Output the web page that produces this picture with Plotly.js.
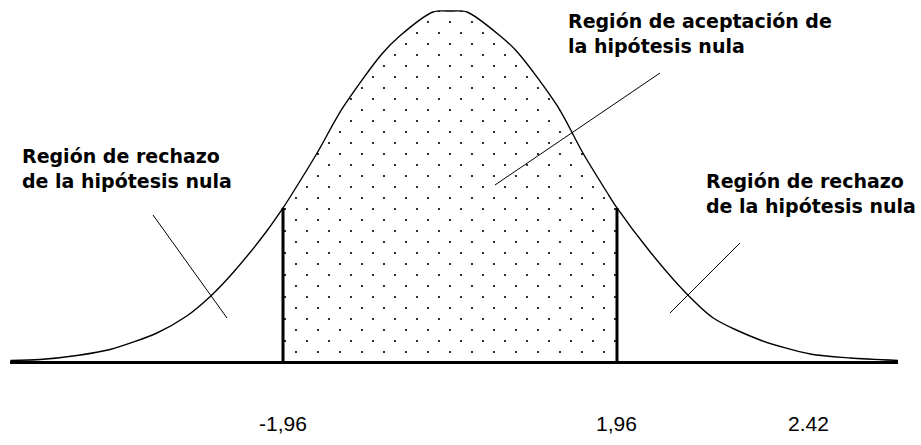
<!DOCTYPE html>
<html>
<head>
<meta charset="utf-8">
<script src="https://cdn.plot.ly/plotly-3.0.1.min.js"></script>
<style>
html,body{margin:0;padding:0;background:#ffffff;}
#chart{width:921px;height:445px;}
</style>
</head>
<body>
<div id="chart"></div>
<script>
// ---- Data ----
// Curve: horizontal position (z units, where the critical lines sit at ±1.96) and height
const curveZ = [-5.16, -4.81, -4.38, -3.99, -3.44, -3.09, -2.82, -2.55, -2.15, -1.96, -1.84, -1.56, -1.26, -0.80, -0.59, -0.20, 0.00,
                0.20, 0.59, 0.79, 1.26, 1.56, 1.84, 1.96, 2.35, 2.78, 3.09, 3.64, 4.23, 4.70, 5.26];
const curveH = [0.0006, 0.0017, 0.0063, 0.0132, 0.0321, 0.0516, 0.0734, 0.1009, 0.1490, 0.1754, 0.1937, 0.2384, 0.2900, 0.3519, 0.3725, 0.4000, 0.4011,
                0.4000, 0.3725, 0.3542, 0.2923, 0.2384, 0.1937, 0.1754, 0.1249, 0.0768, 0.0493, 0.0241, 0.0080, 0.0034, 0.0006];
// Critical values bounding the acceptance region
const criticalZ = [-1.96, 1.96];
// Value labels printed under the axis
const tickText = ['-1,96', '1,96', '2.42'];
// Region labels
const rejectLabel = 'Región de rechazo<br>de la hipótesis nula';
const acceptLabel = 'Región de aceptación de<br>la hipótesis nula';

// ---- Derived series ----
const insideIdx = curveZ.map((z, i) => i).filter(i => curveZ[i] >= criticalZ[0] && curveZ[i] <= criticalZ[1]);
const fillZ = insideIdx.map(i => curveZ[i]);
const fillH = insideIdx.map(i => curveH[i]);
const critX = [], critY = [];
criticalZ.forEach(c => {
  const h = curveH[curveZ.indexOf(c)];
  critX.push(c, c, null);
  critY.push(0, h, null);
});

// ---- Layout geometry (pixels) ----
const W = 921, H = 445;
const mL = 10, mR = 23, mT = 0, mB = 84;
const plotW = W - mL - mR, plotH = H - mT - mB;
const zeroPx = 450, pxPerZ = 85.2, basePx = 361, pxPerH = 872.5;
const xr = [(mL - zeroPx) / pxPerZ, (W - mR - zeroPx) / pxPerZ];
const yr = [0, (basePx - mT) / pxPerH];
const off = 11; // pattern offset for the staggered dot lattice
const px2 = x => (x - mL) / plotW;
const py2 = y => (basePx - y) / plotH;

const dotPattern = {shape: '.', size: 22, solidity: 0.008, fgcolor: '#000000', bgcolor: 'rgba(0,0,0,0)', fillmode: 'replace'};

const traces = [
  {x: fillZ, y: fillH, xaxis: 'x', yaxis: 'y', type: 'scatter', mode: 'lines', fill: 'tozeroy',
   line: {width: 0, shape: 'spline', smoothing: 0.8}, fillcolor: '#000000', fillpattern: dotPattern, hoverinfo: 'skip', showlegend: false},
  {x: fillZ, y: fillH, xaxis: 'x2', yaxis: 'y2', type: 'scatter', mode: 'lines', fill: 'tozeroy',
   line: {width: 0, shape: 'spline', smoothing: 0.8}, fillcolor: '#000000', fillpattern: dotPattern, hoverinfo: 'skip', showlegend: false},
  {x: curveZ, y: curveH, xaxis: 'x', yaxis: 'y', type: 'scatter', mode: 'lines',
   line: {color: '#000000', width: 1.4, shape: 'spline', smoothing: 0.8}, hoverinfo: 'skip', showlegend: false},
  {x: critX, y: critY, xaxis: 'x', yaxis: 'y', type: 'scatter', mode: 'lines',
   line: {color: '#000000', width: 3}, hoverinfo: 'skip', showlegend: false}
];

const labelFont = {family: 'DejaVu Sans, Verdana, sans-serif', size: 19, color: '#000000', weight: 'bold'};
const tickFont = {family: 'Liberation Sans, Arial, sans-serif', size: 21, color: '#000000'};
const tickLabelX = [criticalZ[0], criticalZ[1], (808 - zeroPx) / pxPerZ];

const annotations = [
  {text: rejectLabel, xref: 'paper', yref: 'paper', x: px2(20), y: py2(143), xanchor: 'left', yanchor: 'top', align: 'left', showarrow: false, font: labelFont},
  {text: acceptLabel, xref: 'paper', yref: 'paper', x: px2(566), y: py2(8), xanchor: 'left', yanchor: 'top', align: 'left', showarrow: false, font: labelFont},
  {text: rejectLabel, xref: 'paper', yref: 'paper', x: px2(704), y: py2(168), xanchor: 'left', yanchor: 'top', align: 'left', showarrow: false, font: labelFont}
].concat(tickText.map((t, i) => ({
  text: t, xref: 'x', yref: 'paper', x: tickLabelX[i], y: py2(424), xanchor: 'center', yanchor: 'middle', showarrow: false, font: tickFont
})));

const seg = (x0, y0, x1, y1) => ({type: 'line', xref: 'paper', yref: 'paper', x0: px2(x0), y0: py2(y0), x1: px2(x1), y1: py2(y1),
  line: {color: '#000000', width: 1}});
const shapes = [seg(153, 215, 227, 318), seg(660, 73, 495, 185), seg(670, 313, 740, 243)];

const hiddenAxis = {visible: false, showgrid: false, zeroline: false, fixedrange: true};
const layout = {
  width: W, height: H,
  margin: {l: mL, r: mR, t: mT, b: mB, pad: 0},
  paper_bgcolor: '#ffffff', plot_bgcolor: 'rgba(0,0,0,0)',
  showlegend: false,
  xaxis: {range: xr, domain: [0, 1], anchor: 'y', showline: true, linecolor: '#000000', linewidth: 3,
          showgrid: false, zeroline: false, ticks: '', showticklabels: false, fixedrange: true},
  yaxis: Object.assign({range: yr, domain: [0, 1], anchor: 'x'}, hiddenAxis),
  xaxis2: Object.assign({range: [(mL + off - zeroPx) / pxPerZ, xr[1]], domain: [off / plotW, 1], anchor: 'y2'}, hiddenAxis),
  yaxis2: Object.assign({range: [0, (basePx - mT - off) / pxPerH], domain: [0, 1 - off / plotH], anchor: 'x2'}, hiddenAxis),
  annotations: annotations,
  shapes: shapes
};

Plotly.newPlot('chart', traces, layout, {displayModeBar: false, staticPlot: true});
</script>
</body>
</html>
